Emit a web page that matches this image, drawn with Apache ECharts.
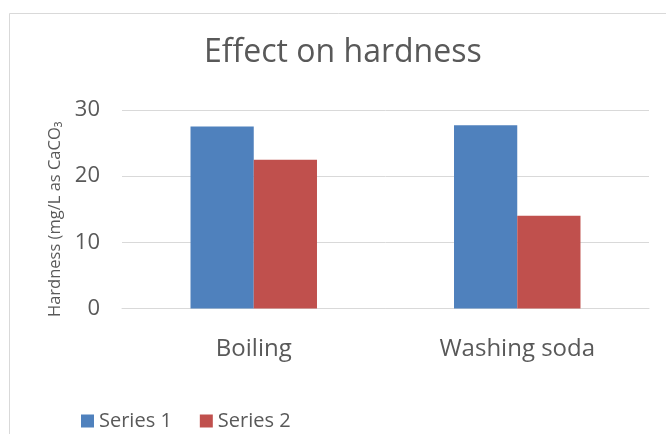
<!DOCTYPE html>
<html><head><meta charset="utf-8">
<script src="https://cdn.jsdelivr.net/npm/echarts@6/dist/echarts.min.js"></script>
<style>html,body{margin:0;padding:0;background:#fff}#c{width:666px;height:434px}</style>
</head><body><div id="c"></div>
<script>
const categories = ['Boiling', 'Washing soda'];
const series1 = [27.5, 27.7];
const series2 = [22.5, 14.0];
const seriesNames = ['Series 1', 'Series 2'];
const yTicks = {min: 0, max: 30, interval: 10};

const chart = echarts.init(document.getElementById('c'), null, {renderer: 'canvas'});
const font = 'Open Sans';
chart.setOption({
  animation: false,
  backgroundColor: '#fff',
  textStyle: {fontFamily: font},
  graphic: [{type: 'rect', left: 7, top: 11, shape: {width: 700, height: 500}, style: {fill: 'none', stroke: '#d9d9d9', lineWidth: 1}, silent: true}],
  title: {text: 'Effect on hardness', left: 199, top: 32, textStyle: {fontFamily: font, fontSize: 32, fontWeight: 'normal', color: '#595959'}},
  legend: {left: 76, top: 406, itemWidth: 13, itemHeight: 13, itemGap: 28, icon: 'rect',
    textStyle: {fontFamily: font, fontSize: 20, color: '#595959'}, data: seriesNames},
  grid: {left: 122, right: 17, top: 110, bottom: 125.5},
  xAxis: {type: 'category', data: categories,
    axisLine: {lineStyle: {color: '#d9d9d9'}}, axisTick: {show: false},
    axisLabel: {fontFamily: font, fontSize: 24, color: '#595959', margin: 29}},
  yAxis: {type: 'value', min: yTicks.min, max: yTicks.max, interval: yTicks.interval,
    name: 'Hardness (mg/L as CaCO₃', nameLocation: 'middle', nameGap: 58,
    nameTextStyle: {fontFamily: font, fontSize: 16.5, color: '#595959', padding: [0, 20, 0, 0]},
    axisLine: {show: false}, axisTick: {show: false},
    splitLine: {lineStyle: {color: '#d9d9d9'}},
    axisLabel: {fontFamily: font, fontSize: 22, color: '#595959', margin: 22}},
  series: [
    {name: seriesNames[0], type: 'bar', data: series1, barGap: '0%', barCategoryGap: '52%', itemStyle: {color: '#4f81bd'}},
    {name: seriesNames[1], type: 'bar', data: series2, itemStyle: {color: '#c0504d'}}
  ]
});
</script></body></html>
